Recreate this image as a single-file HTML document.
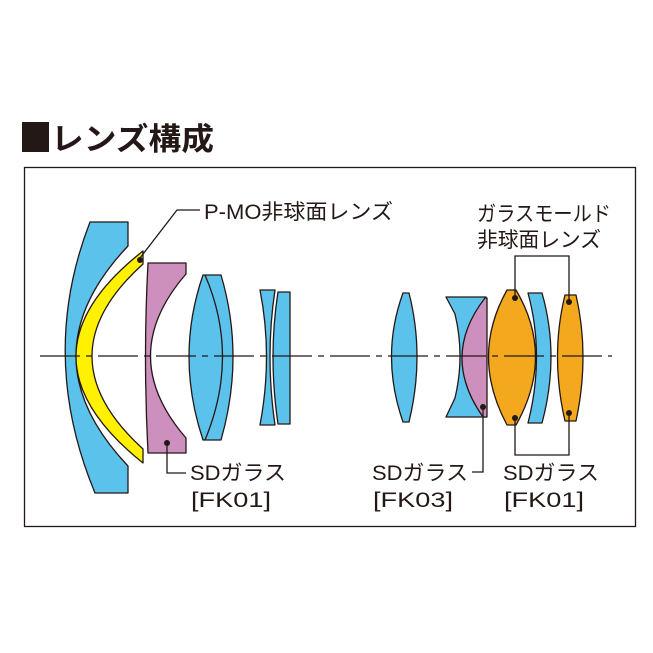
<!DOCTYPE html>
<html><head><meta charset="utf-8"><style>
body{margin:0;background:#fff;width:653px;height:653px;overflow:hidden}
svg{display:block}
text{font-family:"Liberation Sans","Noto Sans CJK JP",sans-serif;fill:#231815}
</style></head><body>
<svg width="653" height="653" viewBox="0 0 653 653">
<rect x="22" y="122" width="27" height="30" fill="#231815"/>
<text x="51" y="150" font-size="31" font-weight="bold" textLength="163" lengthAdjust="spacingAndGlyphs">レンズ構成</text>
<rect x="24.5" y="167.5" width="611" height="359" fill="none" stroke="#231815" stroke-width="1.3"/>
<g stroke="#231815" stroke-width="1.3" stroke-linejoin="round">
<path d="M90,222 L128,222 L128,246 Q24,356 128,466 L128,493 L95,493 Q38,356 90,222 Z" fill="#5bc2ec"/>
<path d="M143,251 L143,264 Q41,356 143,449 L143,463 Q9,356 143,251 Z" fill="#fff100"/>
<path d="M148,263 L186,263 L186,274 Q115,356 186,438 L186,453 L148,453 Q143,356 148,263 Z" fill="#cc8fbe"/>
<path d="M203,275 L221,275 Q245,356 221,440 L203,440 Q175,356 203,275 Z" fill="#5bc2ec"/>
<path d="M205,275 Q240,356 205,440" fill="none"/>
<path d="M260,290 L275,290 Q265,356 275,425 L260,425 Q273,356 260,290 Z" fill="#5bc2ec"/>
<path d="M278,292 L290,292 L290,424 L278,424 Q268,356 278,292 Z" fill="#5bc2ec"/>
<path d="M403,293 L409,293 Q425,356 409,422 L403,422 Q380,356 403,293 Z" fill="#5bc2ec"/>
<path d="M446,297 L486,297 L486,417 L446,417 L455,398 Q465,356 455,314 Z" fill="#5bc2ec"/>
<path d="M485,298 L487,298 L487,417 L483,417 Q440,356 485,298 Z" fill="#cc8fbe"/>
<path d="M507,290 L516,290 Q555,356 516,425 L507,425 Q470,356 507,290 Z" fill="#f3a81d"/>
<path d="M528,293 L542,293 Q560,356 542,423 L528,423 Q545,356 528,293 Z" fill="#5bc2ec"/>
<path d="M565,295 L576,295 Q590,356 576,421 L565,421 Q550,356 565,295 Z" fill="#f3a81d"/>
</g>
<line x1="40" y1="356" x2="612" y2="356" stroke="#231815" stroke-width="1.3" stroke-dasharray="40,6,6,6"/>
<g stroke="#231815" stroke-width="1.3" fill="none">
<polyline points="140,258 177,210 200,210"/>
<polyline points="167,443 167,473 186,473"/>
<polyline points="483,407 483,472 472,472"/>
<polyline points="515,298 515,256 569,256 569,302"/>
<polyline points="515,418 515,455 569,455 569,413"/>
</g>
<g fill="#231815">
<circle cx="140" cy="260" r="3"/><circle cx="167" cy="443" r="3"/>
<circle cx="483" cy="407" r="3"/><circle cx="515" cy="298" r="3"/>
<circle cx="569" cy="302" r="3"/><circle cx="515" cy="418" r="3"/><circle cx="569" cy="413" r="3"/>
</g>
<g font-size="21">
<text x="204" y="219" textLength="189" lengthAdjust="spacingAndGlyphs">P-MO非球面レンズ</text>
<text x="477" y="221" textLength="134" lengthAdjust="spacingAndGlyphs">ガラスモールド</text>
<text x="477" y="247" textLength="124" lengthAdjust="spacingAndGlyphs">非球面レンズ</text>
<text x="190" y="480" textLength="96" lengthAdjust="spacingAndGlyphs">SDガラス</text>
<text x="191" y="507" textLength="80" lengthAdjust="spacingAndGlyphs">[FK01]</text>
<text x="372" y="480" textLength="96" lengthAdjust="spacingAndGlyphs">SDガラス</text>
<text x="373" y="507" textLength="80" lengthAdjust="spacingAndGlyphs">[FK03]</text>
<text x="503" y="480" textLength="96" lengthAdjust="spacingAndGlyphs">SDガラス</text>
<text x="504" y="507" textLength="80" lengthAdjust="spacingAndGlyphs">[FK01]</text>
</g>
</svg>
</body></html>
